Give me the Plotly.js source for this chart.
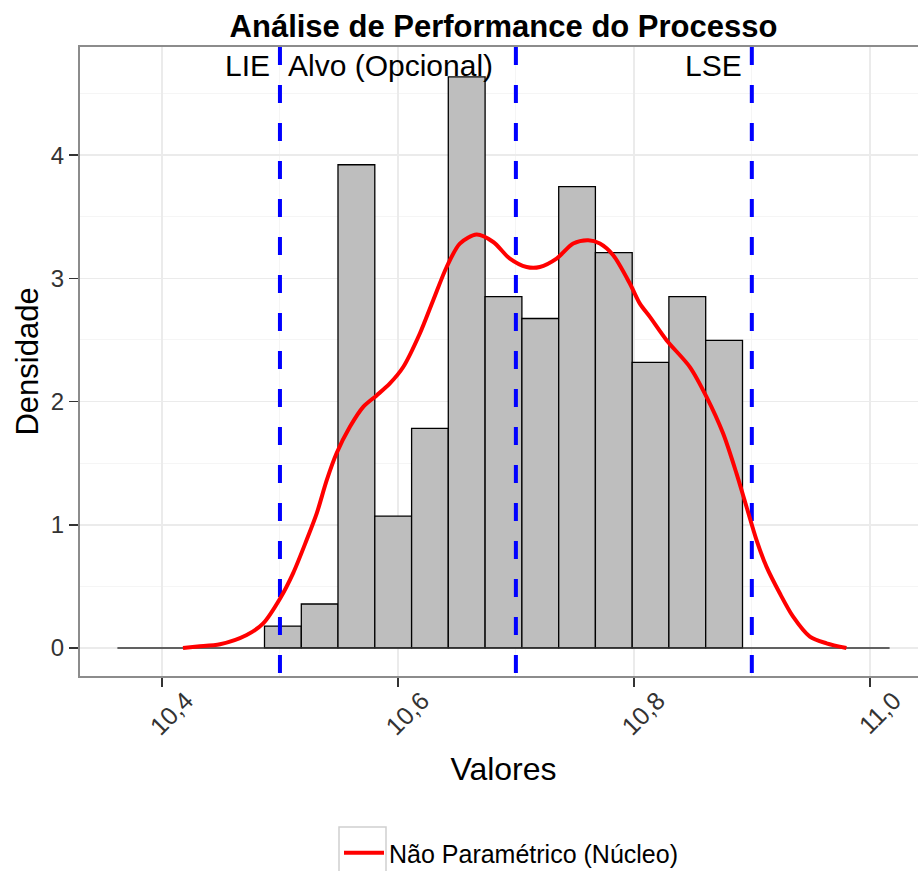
<!DOCTYPE html>
<html>
<head>
<meta charset="utf-8">
<script src="https://cdn.plot.ly/plotly-3.0.1.min.js"></script>
<style>
  html, body { margin: 0; padding: 0; background: #ffffff; overflow: hidden; }
  #plot { width: 933px; height: 871px; }
</style>
</head>
<body>
<div id="plot"></div>
<script>
// ---------- data ----------
// histogram bin edges (21 bins) and density of each bin
const binEdges = [10.3622, 10.3934, 10.4245, 10.4557, 10.4869, 10.5181, 10.5492, 10.5804,
                  10.6116, 10.6427, 10.6739, 10.7051, 10.7363, 10.7674, 10.7986, 10.8297,
                  10.8609, 10.8921, 10.9233, 10.9545, 10.9857, 11.0168];
const binDensity = [0, 0, 0, 0, 0.178, 0.357, 3.922, 1.070, 1.783, 4.635, 2.852, 2.674,
                    3.744, 3.209, 2.318, 2.852, 2.496, 0, 0, 0, 0];

// kernel density curve (non-parametric)
const kdeX = [10.4178, 10.4300, 10.4492, 10.4718, 10.4858, 10.5000, 10.5113, 10.5226, 10.5311,
              10.5396, 10.5480, 10.5593, 10.5706, 10.5820, 10.5932, 10.6045, 10.6186, 10.6299,
              10.6413, 10.6525, 10.6667, 10.6808, 10.6949, 10.7091, 10.7203, 10.7345, 10.7486,
              10.7613, 10.7712, 10.7825, 10.7966, 10.8051, 10.8136, 10.8277, 10.8475, 10.8616,
              10.8757, 10.8870, 10.8955, 10.9040, 10.9124, 10.9237, 10.9350, 10.9492, 10.9633,
              10.9802];
const kdeY = [0, 0.012, 0.03, 0.105, 0.20, 0.40, 0.61, 0.876, 1.09,
              1.36, 1.58, 1.795, 1.957, 2.05, 2.147, 2.28, 2.552, 2.822,
              3.092, 3.282, 3.355, 3.295, 3.16, 3.092, 3.092, 3.16, 3.282,
              3.309, 3.282, 3.187, 2.958, 2.795, 2.687, 2.498, 2.28, 2.038,
              1.74, 1.417, 1.146, 0.876, 0.66, 0.444, 0.254, 0.092, 0.038,
              0];

// specification lines and their labels
const specValues = [10.5, 10.7, 10.9];
const specLabels = ['LIE', 'Alvo (Opcional)', 'LSE'];

// text
const chartTitle = 'Análise de Performance do Processo';
const xTitle = 'Valores';
const yTitle = 'Densidade';
const legendName = 'Não Paramétrico (Núcleo)';

// ---------- build ----------
const FONT = 'Arial, "Liberation Sans", sans-serif';
const xRange = [10.3305, 11.0485];
const yRange = [-0.2275, 4.8775];

const barX = [], barY = [], barW = [];
for (let i = 0; i < binDensity.length; i++) {
  if (binDensity[i] > 0) {
    barX.push((binEdges[i] + binEdges[i + 1]) / 2);
    barW.push(binEdges[i + 1] - binEdges[i]);
    barY.push(binDensity[i]);
  }
}

const traces = [];
// baseline of the histogram (empty bins)
traces.push({
  type: 'scatter', mode: 'lines',
  x: [binEdges[0], binEdges[binEdges.length - 1]], y: [0, 0],
  line: { color: '#333333', width: 1.6 },
  showlegend: false, hoverinfo: 'skip'
});
traces.push({
  type: 'bar', x: barX, y: barY, width: barW,
  marker: { color: '#BEBEBE', line: { color: '#000000', width: 1.3 } },
  showlegend: false
});
specValues.forEach(v => {
  traces.push({
    type: 'scatter', mode: 'lines',
    x: [v, v], y: [yRange[1], yRange[0]],
    line: { color: '#0000FF', width: 4, dash: '18px,20px' },
    showlegend: false, hoverinfo: 'skip'
  });
});
traces.push({
  type: 'scatter', mode: 'lines', x: kdeX, y: kdeY, name: legendName,
  line: { color: '#FF0000', width: 4, shape: 'spline', smoothing: 0.8 },
  showlegend: true
});

const shifts = [-8, -21, -8];
const annotations = specValues.map((v, i) => ({
  x: v, y: 4.73, xref: 'x', yref: 'y', text: specLabels[i],
  showarrow: false, xanchor: 'right', yanchor: 'middle', xshift: shifts[i],
  font: { family: FONT, size: 30, color: '#000000' }
}));

const layout = {
  width: 933, height: 871,
  margin: { l: 80, r: 6, t: 47, b: 195 },
  paper_bgcolor: '#ffffff', plot_bgcolor: '#ffffff',
  separators: ',.',
  font: { family: FONT, color: '#000000' },
  title: {
    text: chartTitle, x: 0.5, xref: 'paper', xanchor: 'center',
    y: 1 - 26 / 871, yref: 'container', yanchor: 'middle',
    font: { family: FONT, size: 31, weight: 'bold', color: '#000000' }
  },
  barmode: 'overlay',
  xaxis: {
    range: xRange, tick0: 10.4, dtick: 0.2, tickformat: '.1f',
    showgrid: true, gridcolor: '#EBEBEB', gridwidth: 1.5,
    minor: { dtick: 0.1, showgrid: true, gridcolor: '#F5F5F5', gridwidth: 1 },
    zeroline: false, showline: true, linecolor: '#8C8C8C', linewidth: 2, mirror: true,
    ticks: 'outside', ticklen: 9, tickwidth: 1.5, tickcolor: '#333333',
    tickangle: -45, ticklabelshift: 24, ticklabelstandoff: -11,
    tickfont: { family: FONT, size: 25, color: '#333333' },
    title: { text: xTitle, font: { family: FONT, size: 32, color: '#000000' }, standoff: 18 },
    automargin: false
  },
  yaxis: {
    range: yRange, tick0: 0, dtick: 1,
    showgrid: true, gridcolor: '#EBEBEB', gridwidth: 1.5,
    minor: { dtick: 0.5, showgrid: true, gridcolor: '#F5F5F5', gridwidth: 1 },
    zeroline: false, showline: true, linecolor: '#8C8C8C', linewidth: 2, mirror: true,
    ticks: 'outside', ticklen: 9, tickwidth: 1.5, tickcolor: '#333333',
    tickfont: { family: FONT, size: 24, color: '#333333' },
    title: { text: yTitle, font: { family: FONT, size: 31, color: '#000000' }, standoff: 3 },
    automargin: false
  },
  legend: {
    orientation: 'h', xref: 'paper', x: (339 - 80) / 847, xanchor: 'left',
    yref: 'container', y: 1 - 853 / 871, yanchor: 'middle',
    itemwidth: 40,
    font: { family: FONT, size: 25, color: '#000000' },
    bgcolor: 'rgba(0,0,0,0)'
  },
  shapes: [{
    type: 'rect', xref: 'paper', yref: 'paper',
    x0: (339 - 80) / 847, x1: (386 - 80) / 847,
    y0: (676 - 827) / 629.3, y1: (676 - 885) / 629.3,
    line: { color: '#D0D0D0', width: 1.5 }, fillcolor: 'rgba(0,0,0,0)', layer: 'below'
  }],
  annotations: annotations
};

Plotly.newPlot('plot', traces, layout, { displayModeBar: false, staticPlot: true });
</script>
</body>
</html>
